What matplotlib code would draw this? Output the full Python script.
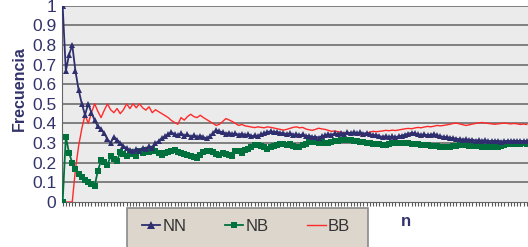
import matplotlib
matplotlib.use('Agg')
import matplotlib.pyplot as plt
from matplotlib.patches import Rectangle
from matplotlib.lines import Line2D

plt.rcParams['font.family'] = ['Liberation Sans', 'DejaVu Sans']

# frecuencias (una por cada n)
nn = [1.0, 0.667, 0.75, 0.8, 0.667, 0.571, 0.5, 0.444, 0.5, 0.455,
      0.417, 0.385, 0.37, 0.35, 0.32, 0.30, 0.333, 0.316, 0.30, 0.286,
      0.273, 0.265, 0.258, 0.27, 0.262, 0.276, 0.27, 0.285, 0.275, 0.30,
      0.31, 0.325, 0.335, 0.345, 0.355, 0.345, 0.34, 0.35, 0.338, 0.345,
      0.333, 0.34, 0.33, 0.338, 0.33, 0.325, 0.335, 0.35, 0.365, 0.36,
      0.355, 0.348, 0.352, 0.345, 0.35, 0.342, 0.348, 0.34, 0.345, 0.335,
      0.34, 0.336, 0.345, 0.35, 0.357, 0.36, 0.355, 0.358, 0.35, 0.352,
      0.345, 0.35, 0.343, 0.345, 0.34, 0.345, 0.335, 0.338, 0.33, 0.333,
      0.328, 0.334, 0.34, 0.345, 0.342, 0.35, 0.345, 0.352, 0.347, 0.355,
      0.35, 0.356, 0.35, 0.355, 0.348, 0.352, 0.345, 0.34, 0.342, 0.335,
      0.332, 0.335, 0.33, 0.334, 0.33, 0.335, 0.338, 0.343, 0.348, 0.352,
      0.35, 0.345, 0.342, 0.345, 0.34, 0.343, 0.345, 0.34, 0.335, 0.332,
      0.33, 0.328, 0.325, 0.323, 0.32, 0.318, 0.32, 0.316, 0.318, 0.313,
      0.315, 0.312, 0.314, 0.31, 0.312, 0.31, 0.312, 0.308, 0.31, 0.312,
      0.31, 0.313, 0.31, 0.312, 0.309, 0.311]

nb = [0.0, 0.333, 0.25, 0.2, 0.167, 0.143, 0.125, 0.111, 0.1, 0.091,
      0.083, 0.158, 0.213, 0.204, 0.19, 0.233, 0.22, 0.21, 0.255, 0.245,
      0.233, 0.255, 0.245, 0.235, 0.262, 0.25, 0.265, 0.255, 0.27, 0.258,
      0.25, 0.24, 0.25, 0.256, 0.262, 0.265, 0.255, 0.248, 0.242, 0.238,
      0.232, 0.228, 0.225, 0.24, 0.255, 0.26, 0.262, 0.255, 0.245, 0.24,
      0.248, 0.243, 0.238, 0.235, 0.262, 0.258, 0.25, 0.264, 0.27, 0.28,
      0.29, 0.292, 0.285, 0.278, 0.272, 0.28, 0.285, 0.29, 0.298, 0.294,
      0.29, 0.295, 0.285, 0.28, 0.282, 0.29, 0.295, 0.305, 0.31, 0.306,
      0.303, 0.306, 0.3, 0.302, 0.305, 0.31, 0.312, 0.316, 0.315, 0.318,
      0.315, 0.312, 0.31, 0.307, 0.306, 0.303, 0.3, 0.297, 0.295, 0.293,
      0.29, 0.292, 0.296, 0.3, 0.302, 0.3, 0.302, 0.299, 0.3, 0.297,
      0.298, 0.295, 0.292, 0.29, 0.288, 0.286, 0.285, 0.283, 0.282, 0.28,
      0.278, 0.28, 0.283, 0.286, 0.288, 0.29, 0.288, 0.286, 0.284, 0.285,
      0.283, 0.281, 0.28, 0.279, 0.28, 0.278, 0.282, 0.287, 0.292, 0.296,
      0.298, 0.296, 0.298, 0.297, 0.299, 0.298]

bb = [0.0, 0.0, 0.0, 0.0, 0.167, 0.286, 0.375, 0.444, 0.4, 0.455,
      0.5, 0.462, 0.43, 0.467, 0.5, 0.47, 0.455, 0.476, 0.45, 0.47,
      0.5, 0.476, 0.5, 0.48, 0.5, 0.48, 0.468, 0.485, 0.455, 0.47,
      0.46, 0.45, 0.44, 0.43, 0.415, 0.405, 0.396, 0.43, 0.417, 0.435,
      0.447, 0.435, 0.43, 0.442, 0.43, 0.42, 0.41, 0.4, 0.39, 0.396,
      0.41, 0.425, 0.418, 0.41, 0.4, 0.39, 0.395, 0.388, 0.385, 0.382,
      0.379, 0.383, 0.38, 0.378, 0.383, 0.38, 0.377, 0.373, 0.37, 0.366,
      0.37, 0.375, 0.38, 0.383, 0.378, 0.38, 0.372, 0.368, 0.365, 0.37,
      0.376, 0.372, 0.37, 0.365, 0.36, 0.362, 0.358, 0.356, 0.352, 0.35,
      0.348, 0.345, 0.342, 0.34, 0.344, 0.35, 0.356, 0.36, 0.358, 0.36,
      0.362, 0.365, 0.363, 0.366, 0.364, 0.367, 0.37, 0.373, 0.375, 0.373,
      0.377, 0.38, 0.378, 0.382, 0.385, 0.383, 0.386, 0.39, 0.388, 0.39,
      0.393, 0.396, 0.4, 0.402, 0.398, 0.394, 0.39, 0.393, 0.397, 0.4,
      0.403, 0.405, 0.403, 0.4, 0.398, 0.396, 0.398, 0.4, 0.402, 0.4,
      0.398, 0.4, 0.398, 0.395, 0.397, 0.395]

n = list(range(1, len(nn) + 1))
yticks = [0, 0.1, 0.2, 0.3, 0.4, 0.5, 0.6, 0.7, 0.8, 0.9, 1]
ylabels = ['0', '0.1', '0.2', '0.3', '0.4', '0.5', '0.6', '0.7', '0.8', '0.9', '1']

c_nn = '#2f2f6f'
c_nb = '#00703c'
c_bb = '#ff2a2a'
c_txt = '#33336b'

fig = plt.figure(figsize=(5.28, 2.47), dpi=100)
ax = fig.add_axes([62 / 528, 45 / 247, 466 / 528, 196.3 / 247])
ax.set_facecolor('#ebebeb')

for y in yticks[1:]:
    ax.axhline(y, color='#808080', lw=1.4, zorder=1)

ax.plot(n, bb, color=c_bb, lw=1.0, zorder=3)
ax.plot(n, nb, color=c_nb, lw=1.3, marker='s', ms=3.8, mew=0, zorder=4)
ax.plot(n, nn, color=c_nn, lw=1.3, marker='^', ms=5, mew=0, zorder=5)

ax.set_xlim(0.8, 146.4)
ax.set_ylim(0, 1)
ax.set_xticks(n)
ax.set_xticklabels([])
ax.tick_params(axis='x', length=3, width=0.8, color='#555555', direction='out')
ax.set_yticks(yticks)
ax.set_yticklabels(ylabels, fontsize=12.5, color=c_txt)
ax.tick_params(axis='y', length=0, pad=4)
for s in ['top', 'right']:
    ax.spines[s].set_visible(False)
ax.spines['left'].set_color('#666666')
ax.spines['bottom'].set_color('#666666')

fig.text(19 / 528, 1 - 89 / 247, 'Frecuencia', rotation=90, fontsize=11.5,
         fontweight='bold', color=c_txt, ha='center', va='center')
fig.text(406 / 528, 1 - 221 / 247, 'n', fontsize=12, fontweight='bold',
         color=c_txt, ha='center', va='center')

# caja de la leyenda (sale por debajo del borde)
box = Rectangle((127 / 528, -0.1), 241 / 528, 0.1 + 39.5 / 247,
                transform=fig.transFigure, facecolor='#ddd6cd',
                edgecolor='#8a8a8a', lw=1.2, zorder=0)
fig.patches.append(box)

handles = [Line2D([], [], color=c_nn, lw=1.3, marker='^', ms=6, mew=0),
           Line2D([], [], color=c_nb, lw=1.3, marker='s', ms=5, mew=0),
           Line2D([], [], color=c_bb, lw=1.0)]
fig.legend(handles, ['NN', 'NB', 'BB'], ncol=3, frameon=False,
           loc='center', bbox_to_anchor=(246 / 528, 1 - 226 / 247),
           fontsize=12, handlelength=1.1, handletextpad=0.15,
           columnspacing=2.3, labelcolor='#333333')

fig.savefig('out.png', dpi=100)
